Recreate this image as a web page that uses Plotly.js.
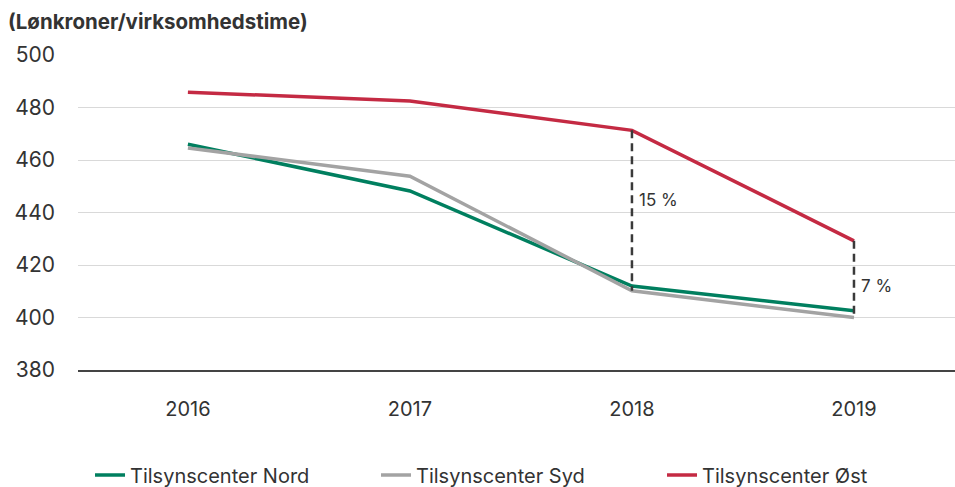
<!DOCTYPE html>
<html>
<head>
<meta charset="utf-8">
<script src="https://cdn.plot.ly/plotly-3.0.1.min.js"></script>
<style>html,body{margin:0;padding:0;background:#fff;}#chart{width:955px;height:487px;}</style>
</head>
<body>
<div id="chart"></div>
<script>
const years = ['2016', '2017', '2018', '2019'];
const nord = [466, 448.2, 412, 402.6];
const syd = [464.6, 453.8, 410.2, 400];
const ost = [485.8, 482.5, 471.3, 429.2];
const seriesNames = ['Tilsynscenter Nord', 'Tilsynscenter Syd', 'Tilsynscenter Øst'];
const gapLabels = ['15 %', '7 %'];
const gapYears = ['2018', '2019'];
const yTicks = [380, 400, 420, 440, 460, 480, 500];

const FONT = 'Inter, "Liberation Sans", Arial, sans-serif';
const colors = ['#007f5f', '#a3a3a3', '#c42a43'];

const traces = [
  {x: years, y: nord, name: seriesNames[0], mode: 'lines', line: {color: colors[0], width: 3.5}},
  {x: years, y: syd, name: seriesNames[1], mode: 'lines', line: {color: colors[1], width: 3.5}},
  {x: years, y: ost, name: seriesNames[2], mode: 'lines', line: {color: colors[2], width: 3.5}}
];
// dashed gap lines between Øst and Syd
gapYears.forEach(function (yr) {
  const i = years.indexOf(yr);
  traces.push({x: [yr, yr], y: [ost[i], syd[i]], mode: 'lines', showlegend: false, hoverinfo: 'skip',
    line: {color: '#3a3a3a', width: 2.5, dash: '8px,5px'}});
});

const labelShift = [4, -2.5];
const annotations = gapYears.map(function (yr, k) {
  const i = years.indexOf(yr);
  return {xref: 'x', yref: 'y', x: i, y: (ost[i] + syd[i]) / 2 + labelShift[k], text: gapLabels[k],
    showarrow: false, xanchor: 'left', xshift: 5, yanchor: 'middle',
    font: {family: FONT, size: 17, color: '#333'}};
});

const layout = {
  width: 955, height: 487,
  margin: {l: 78, r: 0, t: 55, b: 117, autoexpand: false},
  paper_bgcolor: '#fff', plot_bgcolor: '#fff',
  title: {text: '<b>(Lønkroner/virksomhedstime)</b>', x: 8 / 955, xanchor: 'left', xref: 'container',
    y: 1 - 22 / 487, yanchor: 'middle', yref: 'container', font: {family: FONT, size: 20.5, color: '#333'}},
  xaxis: {type: 'category', range: [-0.495, 3.455], showgrid: false, zeroline: false,
    showline: true, linecolor: '#444', linewidth: 1.5, ticks: '', ticklabelstandoff: 20,
    tickfont: {family: FONT, size: 20, color: '#333'}, fixedrange: true},
  yaxis: {range: [380, 500], tickvals: yTicks, showgrid: true, gridcolor: '#d9d9d9', gridwidth: 1,
    zeroline: false, showline: false, ticks: '', ticklabelstandoff: 22,
    tickfont: {family: FONT, size: 21, color: '#333'}, fixedrange: true},
  showlegend: true,
  legend: {orientation: 'h', x: 0.0137, xanchor: 'left', y: -0.333, yanchor: 'middle',
    font: {family: FONT, size: 20, color: '#333'}, entrywidth: 241, entrywidthmode: 'pixels',
    traceorder: 'normal'},
  annotations: annotations
};

Plotly.newPlot('chart', traces, layout, {displayModeBar: false, staticPlot: true});
</script>
</body>
</html>
